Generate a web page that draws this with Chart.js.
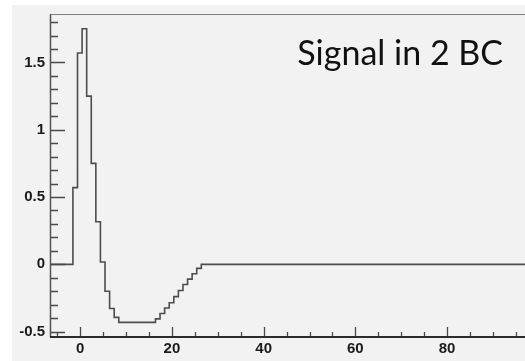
<!DOCTYPE html>
<html>
<head>
<meta charset="utf-8">
<script src="https://cdn.jsdelivr.net/npm/chart.js@4.4.1/dist/chart.umd.min.js"></script>
<style>
  html, body { margin: 0; padding: 0; background: #fff; }
  #wrap { width: 525px; height: 361px; }
</style>
</head>
<body>
<div id="wrap"><canvas id="signalChart" width="525" height="361"></canvas></div>
<script>
// histogram binning (ns)
const binLowEdge = -6.6;
const binWidth = 1;

// pulse shape, one value per bin starting at binLowEdge
const signalBins = [
  0, 0, 0, 0, 0,
  0.57, 1.57, 1.75, 1.25, 0.75, 0.316, 0.017, -0.2, -0.328, -0.394,
  -0.431, -0.431, -0.431, -0.431, -0.431, -0.431, -0.431, -0.431,
  -0.405, -0.365, -0.325, -0.285, -0.24, -0.195, -0.15, -0.11, -0.07, -0.03,
  0, 0, 0, 0, 0, 0, 0, 0, 0, 0,
  0, 0, 0, 0, 0, 0, 0, 0, 0, 0,
  0, 0, 0, 0, 0, 0, 0, 0, 0, 0,
  0, 0, 0, 0, 0, 0, 0, 0, 0, 0,
  0, 0, 0, 0, 0, 0, 0, 0, 0, 0,
  0, 0, 0, 0, 0, 0, 0, 0, 0, 0,
  0, 0, 0, 0, 0, 0, 0, 0, 0, 0,
  0, 0, 0, 0
];

// axis ranges and ticks
const xMin = -6.6;
const xMax = 97.0;
const yMin = -0.54;
const yMax = 1.86;
const xMajorTicks = [0, 20, 40, 60, 80];
const xMinorTicks = [-5, 5, 10, 15, 25, 30, 35, 45, 50, 55, 65, 70, 75, 85, 90, 95];
const yMajorTicks = [-0.5, 0, 0.5, 1, 1.5];
const yMinorTicks = [-0.4, -0.3, -0.2, -0.1, 0.1, 0.2, 0.3, 0.4, 0.6, 0.7, 0.8, 0.9,
                     1.1, 1.2, 1.3, 1.4, 1.6, 1.7, 1.8];

const titleText = 'Signal in 2 BC';

// bin edges -> points for a stepped line
const points = signalBins.map((v, i) => ({ x: binLowEdge + i * binWidth, y: v }));
points.push({ x: binLowEdge + signalBins.length * binWidth, y: signalBins[signalBins.length - 1] });

const tickFont = { family: '"Liberation Sans", Arial, sans-serif', size: 15, weight: 'bold' };

// ROOT-like pad: grey fill, inward ticks, frame and the text label
const rootFrame = {
  id: 'rootFrame',
  beforeDraw(chart) {
    const c = chart.ctx;
    c.save();
    c.fillStyle = '#ffffff';
    c.fillRect(0, 0, chart.width, chart.height);
    c.fillStyle = '#f2f2f2';
    c.fillRect(12, 5, chart.width - 12, chart.height - 5);
    c.restore();
  },
  afterDraw(chart) {
    const c = chart.ctx;
    const a = chart.chartArea;
    const x = chart.scales.x;
    const y = chart.scales.y;
    c.save();
    c.strokeStyle = '#4a4a4a';
    c.lineWidth = 1.3;
    c.beginPath();
    yMinorTicks.forEach(v => {
      const py = Math.round(y.getPixelForValue(v)) + 0.5;
      c.moveTo(a.left, py); c.lineTo(a.left + 8, py);
    });
    yMajorTicks.forEach(v => {
      const py = Math.round(y.getPixelForValue(v)) + 0.5;
      c.moveTo(a.left, py); c.lineTo(a.left + 15, py);
    });
    xMinorTicks.forEach(v => {
      const px = Math.round(x.getPixelForValue(v)) + 0.5;
      c.moveTo(px, a.bottom); c.lineTo(px, a.bottom - 5);
    });
    xMajorTicks.forEach(v => {
      const px = Math.round(x.getPixelForValue(v)) + 0.5;
      c.moveTo(px, a.bottom); c.lineTo(px, a.bottom - 10);
    });
    c.stroke();

    // frame: top, left axis, bottom axis
    c.strokeStyle = '#808080';
    c.lineWidth = 1;
    c.beginPath();
    c.moveTo(a.left, a.top + 0.5); c.lineTo(a.right, a.top + 0.5);
    c.stroke();
    c.strokeStyle = '#555555';
    c.lineWidth = 1.5;
    c.beginPath();
    c.moveTo(a.left + 0.5, a.top); c.lineTo(a.left + 0.5, a.bottom);
    c.stroke();
    c.strokeStyle = '#2b2b2b';
    c.lineWidth = 2;
    c.beginPath();
    c.moveTo(a.left, a.bottom); c.lineTo(a.right, a.bottom);
    c.stroke();

    c.fillStyle = '#111111';
    c.font = '34px Lato, "Open Sans", sans-serif';
    c.textAlign = 'right';
    c.textBaseline = 'alphabetic';
    c.fillText(titleText, 503, 65);
    c.restore();
  }
};

const canvas = document.getElementById('signalChart');
new Chart(canvas.getContext('2d'), {
  type: 'line',
  data: {
    datasets: [{
      data: points,
      stepped: true,
      borderColor: '#4d4d4d',
      borderWidth: 1.6,
      pointRadius: 0,
      fill: false
    }]
  },
  options: {
    responsive: false,
    animation: false,
    layout: { padding: { top: 8, left: 0, right: 0, bottom: 0 } },
    plugins: {
      legend: { display: false },
      tooltip: { enabled: false }
    },
    scales: {
      x: {
        type: 'linear',
        min: xMin,
        max: xMax,
        afterBuildTicks: s => { s.ticks = xMajorTicks.map(v => ({ value: v })); },
        afterFit: s => { s.height = 24; },
        grid: { display: false, drawTicks: false },
        border: { display: false },
        ticks: { font: tickFont, color: '#1a1a1a', padding: 3, maxRotation: 0, autoSkip: false,
                 callback: v => String(v) }
      },
      y: {
        type: 'linear',
        min: yMin,
        max: yMax,
        afterBuildTicks: s => { s.ticks = yMajorTicks.map(v => ({ value: v })); },
        afterFit: s => { s.width = 50; },
        grid: { display: false, drawTicks: false },
        border: { display: false },
        ticks: { font: tickFont, color: '#1a1a1a', padding: 5, autoSkip: false,
                 callback: v => String(v) }
      }
    }
  },
  plugins: [rootFrame]
});
</script>
</body>
</html>
